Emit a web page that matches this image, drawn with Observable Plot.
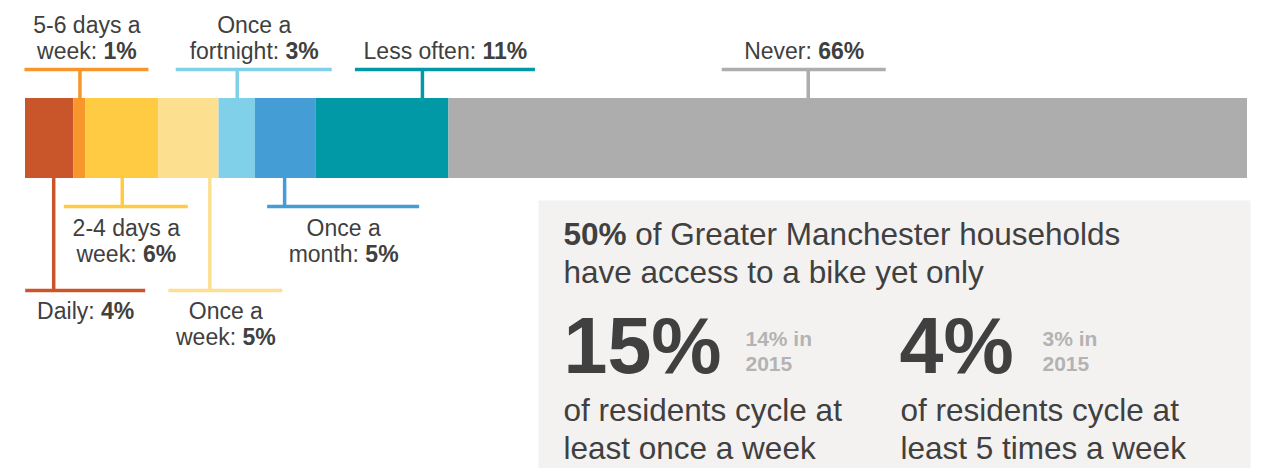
<!DOCTYPE html>
<html>
<head>
<meta charset="utf-8">
<script src="https://cdn.jsdelivr.net/npm/d3@7"></script>
<script src="https://cdn.jsdelivr.net/npm/@observablehq/plot@0.6"></script>
<style>
  body { margin: 0; background: #fff; }
  #chart svg { display: block; }
</style>
</head>
<body>
<div id="chart"></div>
<script>
// ---- data ----
const categories = ["Daily", "5-6 days a week", "2-4 days a week", "Once a week", "Once a fortnight", "Once a month", "Less often", "Never"];
const shares = [4, 1, 6, 5, 3, 5, 11, 66];
const labelNames = ["Daily", "5-6 days a\nweek", "2-4 days a\nweek", "Once a\nweek", "Once a\nfortnight", "Once a\nmonth", "Less often", "Never"];
const colors = ["#c9552a", "#f7962a", "#fecb43", "#fde08f", "#7fd0e8", "#459dd6", "#0099a5", "#adadad"];
const labelRow = ["below2", "above", "below1", "below2", "above", "below1", "above", "above"];

const headline = "**50%** of Greater Manchester households\nhave access to a bike yet only";
const statValues = ["15%", "4%"];
const statPrevious = ["14% in\n2015", "3% in\n2015"];
const statCaptions = ["of residents cycle at\nleast once a week", "of residents cycle at\nleast 5 times a week"];

// ---- layout (pixel offsets of annotations) ----
const annot = {
  "Daily":            {lead: 4,   label: 36,  half: 60},
  "5-6 days a week":  {lead: 0,   label: 7,   half: 62},
  "2-4 days a week":  {lead: 0,   label: 4,   half: 62},
  "Once a week":      {lead: 21,  label: 37,  half: 57},
  "Once a fortnight": {lead: 0,   label: 17,  half: 78},
  "Once a month":     {lead: -1,  label: 58,  half: 76},
  "Less often":       {lead: 40,  label: 63,  half: 90},
  "Never":            {lead: -40, label: -44, half: 82}
};
const rows = {
  above:  {ruleDy: -69, insetTop: -29, insetBottom: 80,   frameAnchor: "top",    textDy: -40, lineAnchor: "bottom"},
  below1: {ruleDy: 68,  insetTop: 80,  insetBottom: -28,  frameAnchor: "bottom", textDy: 39,  lineAnchor: "top"},
  below2: {ruleDy: 152, insetTop: 80,  insetBottom: -112, frameAnchor: "bottom", textDy: 122, lineAnchor: "top"}
};
const statX = [538, 874];
const prevX = [720, 1017];
const capX = [538, 875];

const textColor = "#404040";

// ---- build table ----
const ends = d3.cumsum(shares);
const table = categories.map((c, i) => ({
  category: c,
  share: shares[i],
  color: colors[i],
  x1: ends[i] - shares[i],
  x2: ends[i],
  mid: ends[i] - shares[i] / 2,
  label: `${labelNames[i]}: **${shares[i]}%**`,
  row: labelRow[i]
}));
const total = d3.sum(shares);

const marks = [];
// panel
marks.push(Plot.frame({fill: "#f3f2f1", stroke: "none", insetLeft: 513, insetTop: 102, insetRight: -3, insetBottom: -290}));
// stacked bar
marks.push(Plot.barX(table, {x1: "x1", x2: "x2", fill: "category"}));
// annotations
for (const d of table) {
  const a = annot[d.category];
  const r = rows[d.row];
  marks.push(Plot.ruleX([d], {x: "mid", dx: a.lead, stroke: d.color, strokeWidth: 3.5, insetTop: r.insetTop, insetBottom: r.insetBottom}));
  marks.push(Plot.ruleY([d], {y: null, x1: "mid", x2: "mid", dx: a.label, dy: r.ruleDy, insetLeft: -a.half, insetRight: -a.half, stroke: d.color, strokeWidth: 3.5}));
  marks.push(Plot.text([d], {x: "mid", text: "label", frameAnchor: r.frameAnchor, dx: a.label, dy: r.textDy, lineAnchor: r.lineAnchor, lineHeight: 1.12, fontSize: 23, fill: textColor}));
}
// panel texts
marks.push(Plot.text([headline], {text: d => d, frameAnchor: "top-left", textAnchor: "start", lineAnchor: "bottom", dx: 538, dy: 184, fontSize: 31.5, lineHeight: 1.2, fill: textColor}));
statValues.forEach((v, i) => {
  marks.push(Plot.text([v], {text: d => d, frameAnchor: "top-left", textAnchor: "start", lineAnchor: "bottom", dx: statX[i], dy: 274, fontSize: 79, fontWeight: "bold", fill: textColor}));
  marks.push(Plot.text([statPrevious[i]], {text: d => d, frameAnchor: "top-left", textAnchor: "start", lineAnchor: "bottom", dx: prevX[i], dy: 272, fontSize: 21, lineHeight: 1.19, fontWeight: "bold", fill: "#b3b3b3"}));
  marks.push(Plot.text([statCaptions[i]], {text: d => d, frameAnchor: "top-left", textAnchor: "start", lineAnchor: "bottom", dx: capX[i], dy: 360, fontSize: 31.5, lineHeight: 1.2, fill: textColor}));
});

const chart = Plot.plot({
  width: 1261,
  height: 468,
  marginLeft: 25,
  marginRight: 14,
  marginTop: 98,
  marginBottom: 290,
  style: {fontFamily: "'Liberation Sans', Arial, Helvetica, sans-serif", background: "#fff"},
  x: {domain: [0, total], axis: null},
  color: {domain: categories, range: colors},
  marks
});

// bold the **marked** parts of text
const ns = "http://www.w3.org/2000/svg";
chart.querySelectorAll("text, tspan").forEach(el => {
  if (el.children.length) return;
  const s = el.textContent;
  if (!s.includes("**")) return;
  el.textContent = "";
  s.split("**").forEach((part, i) => {
    if (!part) return;
    if (i % 2) {
      const t = document.createElementNS(ns, "tspan");
      t.setAttribute("font-weight", "bold");
      t.textContent = part;
      el.appendChild(t);
    } else {
      el.appendChild(document.createTextNode(part));
    }
  });
});

document.getElementById("chart").appendChild(chart);
</script>
</body>
</html>
